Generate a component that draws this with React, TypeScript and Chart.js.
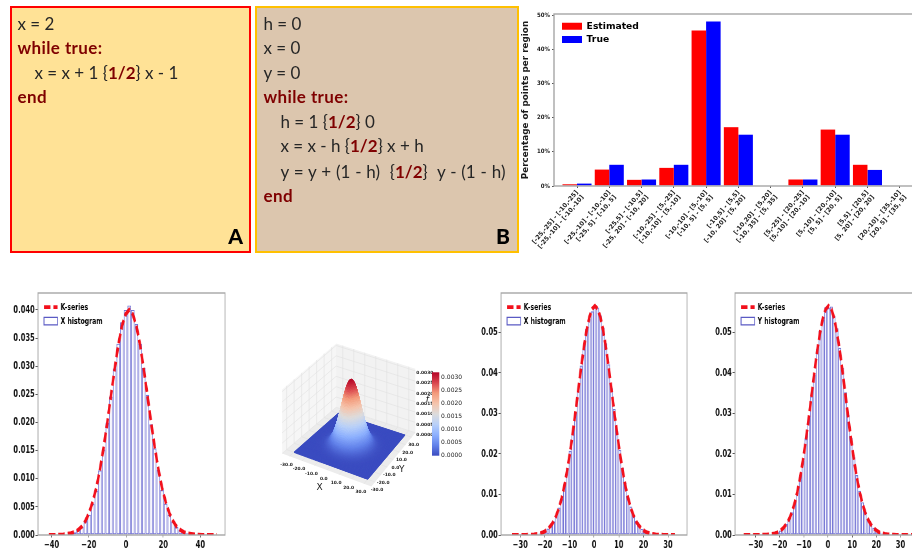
import React, { useEffect, useRef } from "react";
import { Chart, registerables } from "chart.js";

Chart.register(...registerables);

// ---------- Panels A / B ----------
const panelALines = [
  [0, "x = 2"],
  [1, "while true:"],
  [2, "x = x + 1 {|1/2|} x - 1"],
  [1, "end"],
];
const panelBLines = [
  [0, "h = 0"],
  [0, "x = 0"],
  [0, "y = 0"],
  [1, "while true:"],
  [2, "h = 1 {|1/2|} 0"],
  [2, "x = x - h {|1/2|} x + h"],
  [2, "y = y + (1 - h)  {|1/2|}  y - (1 - h)"],
  [1, "end"],
];

// ---------- Region bar chart ----------
const regionLabels = [
  ["[-25,-25] - [-10,-25]", "[-25,-10] - [-10,-10]"],
  ["[-25,-10] - [-10,-10]", "[-25, 5] - [-10, 5]"],
  ["[-25,5] - [-10,5]", "[-25, 20] - [-10, 20]"],
  ["[-10,-25] - [5,-25]", "[-10,-10] - [5,-10]"],
  ["[-10,-10] - [5,-10]", "[-10, 5] - [5, 5]"],
  ["[-10,5] - [5,5]", "[-10, 20] - [5, 20]"],
  ["[-10,20] - [5,20]", "[-10, 35] - [5, 35]"],
  ["[5,-25] - [20,-25]", "[5,-10] - [20,-10]"],
  ["[5,-10] - [20,-10]", "[5, 5] - [20, 5]"],
  ["[5,5] - [20,5]", "[5, 20] - [20, 20]"],
  ["[20,-10] - [35,-10]", "[20, 5] - [35, 5]"],
];
const regionIndex = [0, 1, 2, 3, 4, 5, 6, 7, 8, 9, 10];
const estimatedPct = [0.5, 4.8, 1.8, 5.3, 45.5, 17.2, 0.15, 1.9, 16.5, 6.2, 0.15];
const truePct = [0.7, 6.2, 1.9, 6.2, 48.1, 15.0, 0.15, 1.9, 15.0, 4.7, 0.15];

// ---------- Histogram 1 ----------
const h1X = [-41.42, -39.46, -37.5, -35.54, -33.58, -31.62, -29.66, -27.7, -25.74, -23.78, -21.82, -19.86, -17.9, -15.94, -13.98, -12.02, -10.06, -8.1, -6.14, -4.18, -2.22, -0.26, 1.7, 3.66, 5.62, 7.58, 9.54, 11.5, 13.46, 15.42, 17.38, 19.34, 21.3, 23.26, 25.22, 27.18, 29.14, 31.1, 33.06, 35.02, 36.98, 38.94, 40.9, 42.86, 44.82, 46.78, 48.74];
const h1Hist = [0, 0.00002, 0.00004, 0.00006, 0.0001, 0.00015, 0.0003, 0.0005, 0.0009, 0.0014, 0.0025, 0.0036, 0.0055, 0.0079, 0.0115, 0.0152, 0.02, 0.0246, 0.0296, 0.034, 0.0378, 0.04, 0.0408, 0.04, 0.0375, 0.034, 0.0297, 0.0249, 0.0197, 0.0154, 0.0116, 0.008, 0.0056, 0.0036, 0.0024, 0.0014, 0.0009, 0.0005, 0.0003, 0.00015, 0.0001, 0.00006, 0.00004, 0.00002, 0, 0, 0];
const h1Line = [0, 0.00001, 0.00002, 0.00005, 0.0001, 0.0002, 0.0003, 0.0005, 0.0009, 0.0015, 0.0025, 0.0039, 0.0059, 0.0084, 0.0117, 0.0156, 0.02, 0.0248, 0.0294, 0.0337, 0.0371, 0.0392, 0.04, 0.0392, 0.0371, 0.0337, 0.0294, 0.0248, 0.02, 0.0156, 0.0117, 0.0084, 0.0059, 0.0039, 0.0025, 0.0015, 0.0009, 0.0005, 0.0003, 0.0002, 0.0001, 0.00005, 0.00002, 0.00001, 0, 0, 0];

// ---------- Histogram 2 (X) ----------
const h2X = [-33.3, -32.18, -31.06, -29.94, -28.82, -27.7, -26.58, -25.46, -24.34, -23.22, -22.1, -20.98, -19.86, -18.74, -17.62, -16.5, -15.38, -14.26, -13.14, -12.02, -10.9, -9.78, -8.66, -7.54, -6.42, -5.3, -4.18, -3.06, -1.94, -0.82, 0.3, 1.42, 2.54, 3.66, 4.78, 5.9, 7.02, 8.14, 9.26, 10.38, 11.5, 12.62, 13.74, 14.86, 15.98, 17.1, 18.22, 19.34, 20.46, 21.58, 22.7, 23.82, 24.94, 26.06, 27.18, 28.3, 29.42, 30.54, 31.66, 32.78];
const h2Hist = [0, 0, 0, 0.00001, 0.00002, 0.00003, 0.00005, 0.0001, 0.0001, 0.0002, 0.0004, 0.0006, 0.0009, 0.0016, 0.0022, 0.0034, 0.0047, 0.0068, 0.009, 0.0125, 0.0165, 0.0208, 0.0255, 0.0302, 0.0355, 0.0418, 0.0459, 0.0508, 0.0533, 0.0552, 0.0566, 0.0561, 0.0542, 0.0512, 0.0473, 0.0421, 0.0362, 0.0311, 0.0257, 0.021, 0.0166, 0.0129, 0.0095, 0.007, 0.005, 0.0035, 0.0024, 0.0015, 0.001, 0.0006, 0.0004, 0.0002, 0.0001, 0.0001, 0.00005, 0.00003, 0.00001, 0, 0, 0];
const h2Line = [0, 0, 0, 0, 0.00001, 0.00002, 0.00004, 0.00007, 0.00013, 0.00022, 0.00037, 0.0006, 0.00096, 0.0015, 0.0023, 0.0033, 0.0048, 0.0067, 0.0092, 0.0123, 0.0161, 0.0204, 0.0253, 0.0305, 0.0359, 0.0413, 0.0462, 0.0505, 0.0537, 0.0558, 0.0565, 0.0558, 0.0537, 0.0505, 0.0462, 0.0413, 0.0359, 0.0305, 0.0253, 0.0204, 0.0161, 0.0123, 0.0092, 0.0067, 0.0048, 0.0033, 0.0023, 0.0015, 0.00096, 0.0006, 0.00037, 0.00022, 0.00013, 0.00007, 0.00004, 0.00002, 0.00001, 0, 0, 0];

// ---------- Histogram 3 (Y) ----------
const h3X = [-34.9, -33.73, -32.56, -31.39, -30.22, -29.05, -27.88, -26.71, -25.54, -24.37, -23.2, -22.03, -20.86, -19.69, -18.52, -17.35, -16.18, -15.01, -13.84, -12.67, -11.5, -10.33, -9.16, -7.99, -6.82, -5.65, -4.48, -3.31, -2.14, -0.97, 0.2, 1.37, 2.54, 3.71, 4.88, 6.05, 7.22, 8.39, 9.56, 10.73, 11.9, 13.07, 14.24, 15.41, 16.58, 17.75, 18.92, 20.09, 21.26, 22.43, 23.6, 24.77, 25.94, 27.11, 28.28, 29.45, 30.62, 31.79, 32.96, 34.13, 35.3];
const h3Hist = [0, 0, 0, 0, 0, 0.00001, 0.00002, 0.00003, 0.00008, 0.00012, 0.00024, 0.0004, 0.0007, 0.0011, 0.0016, 0.0027, 0.0038, 0.0056, 0.0079, 0.0105, 0.0145, 0.0183, 0.0237, 0.0291, 0.0342, 0.0396, 0.0458, 0.0504, 0.0531, 0.0562, 0.056, 0.0564, 0.0541, 0.051, 0.0462, 0.0412, 0.0352, 0.0296, 0.024, 0.0192, 0.0148, 0.0109, 0.0081, 0.0058, 0.004, 0.0027, 0.0018, 0.0011, 0.0007, 0.0004, 0.00024, 0.00013, 0.00006, 0.00003, 0.00002, 0.00001, 0, 0, 0, 0, 0];
const h3Line = [0, 0, 0, 0, 0, 0.00001, 0.00002, 0.00004, 0.00007, 0.00013, 0.00023, 0.0004, 0.00066, 0.0011, 0.0017, 0.0026, 0.0038, 0.0055, 0.0078, 0.0107, 0.0143, 0.0186, 0.0235, 0.0288, 0.0345, 0.0401, 0.0454, 0.0499, 0.0535, 0.0557, 0.0565, 0.0557, 0.0535, 0.0499, 0.0454, 0.0401, 0.0345, 0.0288, 0.0235, 0.0186, 0.0143, 0.0107, 0.0078, 0.0055, 0.0038, 0.0026, 0.0017, 0.0011, 0.00066, 0.0004, 0.00023, 0.00013, 0.00007, 0.00004, 0.00002, 0.00001, 0, 0, 0, 0, 0];

// ---------- 3D surface: f(X, Y) = profile(X) * profile(Y) ----------
const surfaceGrid = [-30, -28.5, -27, -25.5, -24, -22.5, -21, -19.5, -18, -16.5, -15, -13.5, -12, -10.5, -9, -7.5, -6, -4.5, -3, -1.5, 0, 1.5, 3, 4.5, 6, 7.5, 9, 10.5, 12, 13.5, 15, 16.5, 18, 19.5, 21, 22.5, 24, 25.5, 27, 28.5, 30];
const surfaceProfile = [0.00001, 0.00002, 0.00004, 0.00008, 0.00017, 0.00035, 0.0007, 0.0012, 0.0022, 0.0037, 0.0059, 0.0091, 0.0133, 0.0187, 0.0251, 0.0321, 0.0394, 0.0461, 0.0516, 0.0552, 0.0565, 0.0552, 0.0516, 0.0461, 0.0394, 0.0321, 0.0251, 0.0187, 0.0133, 0.0091, 0.0059, 0.0037, 0.0022, 0.0012, 0.0007, 0.00035, 0.00017, 0.00008, 0.00004, 0.00002, 0.00001];
const axisTicks3d = [-30, -20, -10, 0, 10, 20, 30];
const zTicks3d = [0, 0.0005, 0.001, 0.0015, 0.002, 0.0025, 0.003];

const DEJAVU = "'DejaVu Sans', sans-serif";
const COND = "'DejaVu Sans Condensed', 'DejaVu Sans', sans-serif";
const frameColor = "#a6a6a6";
const SQUEEZE = 1.55; // the histogram plots are horizontally compressed pictures

const framePlugin = {
  id: "frame",
  afterDatasetsDraw(chart: any) {
    const { ctx, chartArea: a } = chart;
    ctx.save();
    ctx.strokeStyle = frameColor;
    ctx.lineWidth = 1.4;
    ctx.strokeRect(a.left, a.top, a.right - a.left, a.bottom - a.top);
    ctx.restore();
  },
};

const legendNudge = {
  id: "legendNudge",
  afterLayout(chart: any, _a: any, opts: any) {
    if (chart.legend) {
      chart.legend.left += opts.dx || 0;
      chart.legend.top += opts.dy || 0;
      chart.legend.right += 40;
      chart.legend.bottom += 40;
    }
  },
};

const legendItems = (chart: any) =>
  chart.data.datasets.map((d: any, i: number) => ({
    text: d.label,
    fillStyle: d.legendFill,
    strokeStyle: d.legendStroke,
    lineWidth: d.legendWidth,
    lineDash: d.borderDash || [],
    pointStyle: d.pointStyle,
    datasetIndex: i,
    hidden: false,
  }));

function histConfig(o: {
  xs: number[]; hist: number[]; line: number[]; label: string;
  xMin: number; xMax: number; xStep: number; yMax: number; yStep: number; yDigits: number;
}) {
  const toXY = (ys: number[]) => ys.map((y, i) => ({ x: o.xs[i], y }));
  return {
    type: "bar",
    data: {
      datasets: [
        {
          type: "line", label: "K-series", data: toXY(o.line), order: 0,
          borderColor: "#f2101c", borderWidth: 4, borderDash: [10, 4.5], pointRadius: 0, tension: 0,
          pointStyle: "line", legendFill: "transparent", legendStroke: "#f2101c", legendWidth: 3.6,
        },
        {
          type: "bar", label: o.label, data: toXY(o.hist), order: 1,
          backgroundColor: "rgba(0,0,0,0)", borderColor: "rgba(60,60,195,0.7)", borderWidth: 1.2,
          borderSkipped: false, categoryPercentage: 1, barPercentage: 1, inflateAmount: 0,
          pointStyle: "rect", legendFill: "transparent", legendStroke: "#5a5ac4", legendWidth: 1.4,
        },
      ],
    },
    options: {
      responsive: false, animation: false,
      layout: { padding: { top: 10, right: 6 * SQUEEZE, left: 0, bottom: 0 } },
      plugins: {
        tooltip: { enabled: false },
        legendNudge: { dx: 4.8, dy: 14.9 },
        legend: {
          position: "chartArea", align: "start",
          labels: {
            usePointStyle: true, pointStyleWidth: 21, boxHeight: 7.5, padding: 4.5,
            font: { family: DEJAVU, size: 9.5, weight: "bold" }, color: "#111",
            generateLabels: legendItems,
          },
        },
      },
      scales: {
        x: {
          type: "linear", offset: false, min: o.xMin, max: o.xMax,
          grid: { offset: false, drawOnChartArea: false, tickLength: 2.5, color: "#555" },
          border: { display: false },
          ticks: {
            stepSize: o.xStep, includeBounds: false, autoSkip: false, maxRotation: 0, padding: 1,
            font: { family: DEJAVU, size: 10.5, weight: "bold" }, color: "#111",
            callback: (v: number) => String(v).replace("-", "\u2212"),
          },
          afterFit: (s: any) => { s.height = 17; s.paddingLeft = 0; s.paddingRight = 0; },
        },
        y: {
          min: 0, max: o.yMax,
          grid: { drawOnChartArea: false, tickLength: 4, color: "#555" },
          border: { display: false },
          ticks: {
            stepSize: o.yStep, includeBounds: false, padding: 1,
            font: { family: DEJAVU, size: 10.5, weight: "bold" }, color: "#111",
            callback: (v: number) => v.toFixed(o.yDigits),
          },
          afterFit: (s: any) => { s.width = 36 * SQUEEZE; s.paddingTop = 0; s.paddingBottom = 0; },
        },
      },
    },
    plugins: [framePlugin, legendNudge],
  };
}

function barConfig() {
  const toXY = (ys: number[]) => ys.map((y, i) => ({ x: regionIndex[i], y }));
  return {
    type: "bar",
    data: {
      datasets: [
        {
          label: "Estimated", data: toXY(estimatedPct), backgroundColor: "#ff0000",
          categoryPercentage: 0.9, barPercentage: 1, pointStyle: "rect",
          legendFill: "#ff0000", legendStroke: "#ff0000", legendWidth: 0,
        },
        {
          label: "True", data: toXY(truePct), backgroundColor: "#0000ff",
          categoryPercentage: 0.9, barPercentage: 1, pointStyle: "rect",
          legendFill: "#0000ff", legendStroke: "#0000ff", legendWidth: 0,
        },
      ],
    },
    options: {
      responsive: false, animation: false,
      layout: { padding: { top: 10, right: 0, left: 0, bottom: 0 } },
      plugins: {
        tooltip: { enabled: false },
        legendNudge: { dx: 4, dy: 13.6 },
        legend: {
          position: "chartArea", align: "start",
          labels: {
            usePointStyle: true, pointStyleWidth: 20, boxHeight: 7, padding: 4,
            font: { family: DEJAVU, size: 9.2, weight: "bold" }, color: "#1a1a1a",
            generateLabels: legendItems,
          },
        },
      },
      scales: {
        x: {
          type: "linear", offset: false, min: -0.713, max: 10.69,
          grid: { offset: false, drawOnChartArea: false, tickLength: 2, color: "#555" },
          border: { display: false },
          ticks: {
            stepSize: 1, includeBounds: false, autoSkip: false, minRotation: 50, maxRotation: 50, padding: 1,
            font: { family: DEJAVU, size: 6.2, weight: "bold" }, color: "#1a1a1a",
            callback: (v: number) => regionLabels[v],
          },
          afterFit: (s: any) => { s.height = 74; s.paddingLeft = 0; s.paddingRight = 0; },
        },
        y: {
          min: 0, max: 50.3,
          grid: { drawOnChartArea: false, tickLength: 2, color: "#555" },
          border: { display: false },
          title: {
            display: true, text: "Percentage of points per region", color: "#1a1a1a",
            font: { family: DEJAVU, size: 8.8, weight: "bold" }, padding: { top: 2, bottom: 0 },
          },
          ticks: {
            stepSize: 10, includeBounds: false, padding: 2,
            font: { family: COND, size: 6, weight: "bold" }, color: "#1a1a1a",
            callback: (v: number) => v + "%",
          },
          afterFit: (s: any) => { s.width = 36; s.paddingTop = 0; s.paddingBottom = 0; },
        },
      },
    },
    plugins: [framePlugin, legendNudge],
  };
}

// projection of (X, Y, f) to the plane of the hidden page-aligned scales
const corner = { L: [294, 452.3], F: [367.7, 479.3], R: [405, 435], B: [338.3, 413.3] };
const Z_PX = 20600;
function project(X: number, Y: number, z: number) {
  const u = (X + 30) / 60;
  const v = (Y + 30) / 60;
  const px = (1 - u) * (1 - v) * corner.L[0] + u * (1 - v) * corner.F[0] + u * v * corner.R[0] + (1 - u) * v * corner.B[0];
  const py = (1 - u) * (1 - v) * corner.L[1] + u * (1 - v) * corner.F[1] + u * v * corner.R[1] + (1 - u) * v * corner.B[1];
  return { x: px, y: py - z * Z_PX };
}
const coolwarmStops = [
  [59, 76, 192], [98, 130, 234], [141, 176, 254], [184, 208, 249], [221, 220, 220],
  [245, 196, 172], [244, 154, 123], [217, 68, 77], [180, 4, 38],
];
function coolwarm(t: number) {
  const c = Math.min(0.9999, Math.max(0, t)) * (coolwarmStops.length - 1);
  const i = Math.floor(c);
  const f = c - i;
  const a = coolwarmStops[i];
  const b = coolwarmStops[i + 1];
  return `rgb(${a.map((v, k) => Math.round(v + (b[k] - v) * f)).join(",")})`;
}

const surfacePlugin = {
  id: "surface3d",
  beforeDatasetsDraw(chart: any) {
    const { ctx, scales } = chart;
    const P = (X: number, Y: number, z: number) => {
      const p = project(X, Y, z);
      return [scales.x.getPixelForValue(p.x), scales.y.getPixelForValue(p.y)];
    };
    const poly = (pts: number[][], fill: string, stroke?: string) => {
      ctx.beginPath();
      pts.forEach((p, i) => (i ? ctx.lineTo(p[0], p[1]) : ctx.moveTo(p[0], p[1])));
      ctx.closePath();
      ctx.fillStyle = fill;
      ctx.fill();
      if (stroke) { ctx.strokeStyle = stroke; ctx.lineWidth = 0.8; ctx.stroke(); }
    };
    const seg = (a: number[], b: number[]) => {
      ctx.beginPath(); ctx.moveTo(a[0], a[1]); ctx.lineTo(b[0], b[1]);
      ctx.strokeStyle = "#e0e0e0"; ctx.lineWidth = 0.6; ctx.stroke();
    };
    const E = 36;
    const T = 0.0031;
    ctx.save();
    // panes
    poly([P(-E, -E, 0), P(-E, E, 0), P(-E, E, T), P(-E, -E, T)], "#f6f6f6");
    poly([P(-E, E, 0), P(E, E, 0), P(E, E, T), P(-E, E, T)], "#f2f2f2");
    poly([P(-E, -E, 0), P(E, -E, 0), P(E, E, 0), P(-E, E, 0)], "#ececec");
    axisTicks3d.forEach((t) => {
      seg(P(t, -E, 0), P(t, E, 0));
      seg(P(-E, t, 0), P(E, t, 0));
      seg(P(-E, t, 0), P(-E, t, T));
      seg(P(t, E, 0), P(t, E, T));
    });
    zTicks3d.forEach((z) => {
      seg(P(-E, -E, z), P(-E, E, z));
      seg(P(-E, E, z), P(E, E, z));
    });
    // surface cells, back to front; each table cell is drawn as SUB × SUB facets
    const SUB = 3;
    const m = (surfaceGrid.length - 1) * SUB;
    const gridAt = (k: number) => {
      const i = Math.min(Math.floor(k / SUB), surfaceGrid.length - 2);
      const w = k / SUB - i;
      return surfaceGrid[i] + (surfaceGrid[i + 1] - surfaceGrid[i]) * w;
    };
    const profAt = (k: number) => {
      const i = Math.min(Math.floor(k / SUB), surfaceProfile.length - 2);
      const w = k / SUB - i;
      return surfaceProfile[i] + (surfaceProfile[i + 1] - surfaceProfile[i]) * w;
    };
    const f = (i: number, j: number) => profAt(i) * profAt(j);
    const cells: number[][] = [];
    for (let i = 0; i < m; i++) for (let j = 0; j < m; j++) cells.push([i, j]);
    cells.sort((a, b) => a[0] - a[1] - (b[0] - b[1]));
    cells.forEach(([i, j]) => {
      const x0 = gridAt(i), x1 = gridAt(i + 1), y0 = gridAt(j), y1 = gridAt(j + 1);
      const mean = (f(i, j) + f(i + 1, j) + f(i, j + 1) + f(i + 1, j + 1)) / 4;
      const col = coolwarm(mean / 0.0032);
      poly([P(x0, y0, f(i, j)), P(x1, y0, f(i + 1, j)), P(x1, y1, f(i + 1, j + 1)), P(x0, y1, f(i, j + 1))], col, col);
    });
    // tick labels
    ctx.fillStyle = "#222";
    ctx.textAlign = "center";
    ctx.textBaseline = "middle";
    ctx.font = `bold 4.4px ${DEJAVU}`;
    axisTicks3d.forEach((t) => {
      const a = P(t, -E, 0);
      ctx.fillText(t.toFixed(1), a[0] - 3, a[1] + 8.5);
      const b = P(E, t, 0);
      ctx.fillText(t.toFixed(1), b[0] + 2, b[1] + 8);
    });
    ctx.textAlign = "left";
    zTicks3d.forEach((z) => {
      const c = P(E, E, z);
      ctx.fillText(z.toFixed(4), c[0] + 1, c[1] + 2);
    });
    // axis letters
    ctx.font = `9px ${DEJAVU}`;
    ctx.textAlign = "center";
    const X0 = P(8, -E, 0);
    ctx.fillText("X", X0[0] - 17, X0[1] + 14);
    const Y0 = P(E, 3, 0);
    ctx.fillText("Y", Y0[0] + 6.5, Y0[1] + 12);
    ctx.font = `italic 9px ${DEJAVU}`;
    const Z0 = P(E, E, 0.0017);
    ctx.fillText("f", Z0[0] + 12, Z0[1] + 2);
    // colour bar
    const cbX = scales.x.getPixelForValue(432);
    const cbR = scales.x.getPixelForValue(439.3);
    const cbT = scales.y.getPixelForValue(372.3);
    const cbB = scales.y.getPixelForValue(455.7);
    const g = ctx.createLinearGradient(0, cbB, 0, cbT);
    coolwarmStops.forEach((_s, i) => g.addColorStop(i / (coolwarmStops.length - 1), coolwarm(i / (coolwarmStops.length - 1))));
    ctx.fillStyle = g;
    ctx.fillRect(cbX, cbT, cbR - cbX, cbB - cbT);
    ctx.fillStyle = "#222";
    ctx.textAlign = "left";
    ctx.font = `6px ${DEJAVU}`;
    zTicks3d.forEach((z) => {
      ctx.fillText(z.toFixed(4), cbR + 1.8, cbB - (z / 0.0032) * (cbB - cbT));
    });
    ctx.restore();
  },
};

function surfaceConfig() {
  const points = surfaceGrid.map((X, i) => project(X, surfaceGrid[i], surfaceProfile[i] * surfaceProfile[i]));
  return {
    type: "scatter",
    data: { datasets: [{ label: "f", data: points, pointRadius: 0 }] },
    options: {
      responsive: false, animation: false,
      layout: { padding: 0 },
      plugins: { legend: { display: false }, tooltip: { enabled: false } },
      scales: {
        x: { type: "linear", display: false, min: 270, max: 470 },
        y: { type: "linear", display: false, min: 335, max: 505, reverse: true },
      },
    },
    plugins: [surfacePlugin],
  };
}

function ChartBox({ left, top, width, height, make, blur = 0.4, squeeze = 1 }: any) {
  const ref = useRef<HTMLCanvasElement>(null);
  useEffect(() => {
    const chart = new Chart(ref.current as any, make());
    return () => chart.destroy();
  }, []);
  return (
    <canvas
      ref={ref}
      width={Math.round(width * squeeze)}
      height={height}
      style={{ position: "absolute", left, top, width, height, filter: `blur(${blur}px)` }}
    />
  );
}

function Panel({ left, right, fill, border, lines, letter, textX, letterX }: any) {
  const lineTops = [24, 48.4, 73, 97.4, 122.2, 146.4, 171.6, 196];
  return (
    <div
      style={{
        position: "absolute", left, top: 6, width: right - left, height: 247, boxSizing: "border-box",
        background: fill, border: `2px solid ${border}`, filter: "blur(0.3px)",
      }}
    >
      {lines.map(([kind, text]: any, i: number) => {
        const bold = kind === 1;
        const parts = String(text).split("|");
        return (
          <div
            key={i}
            style={{
              position: "absolute", left: textX + (kind === 2 ? 17 : 0), top: lineTops[i] - 8 - 12,
              height: 24, lineHeight: "24px", whiteSpace: "pre", fontFamily: "Lato, sans-serif", fontSize: 17,
              fontWeight: bold ? 700 : 400, color: bold ? "#7f0000" : "#262626", letterSpacing: bold ? 0.4 : 0,
              wordSpacing: String(text).includes("  ") ? 0.5 : 0,
            }}
          >
            {parts.map((p, k) =>
              k === 1 ? <span key={k} style={{ fontWeight: 700, color: "#7f0000" }}>{p}</span> : <span key={k}>{p}</span>
            )}
          </div>
        );
      })}
      <div
        style={{
          position: "absolute", left: letterX - left - 2 - 15, top: 235.7 - 8 - 15, width: 30, height: 30, lineHeight: "30px",
          textAlign: "center", fontFamily: "Lato, sans-serif", fontWeight: 900, fontSize: 21, color: "#000",
        }}
      >
        {letter}
      </div>
    </div>
  );
}

export default function App() {
  return (
    <div style={{ position: "fixed", left: 0, top: 0, width: 912, height: 552, overflow: "hidden", background: "#fff" }}>
      <Panel left={10} right={251} fill="#FFE296" border="#FF0000" lines={panelALines} letter="A" textX={5.5} letterX={235.7} />
      <Panel left={255} right={519} fill="#DCC6AE" border="#FFC000" lines={panelBLines} letter="B" textX={6.5} letterX={503} />
      <ChartBox left={518} top={4} width={404} height={256} make={barConfig} />
      <ChartBox
        left={2} top={283} width={229} height={269} squeeze={SQUEEZE}
        make={() => histConfig({ xs: h1X, hist: h1Hist, line: h1Line, label: "X histogram", xMin: -47.3, xMax: 53.2, xStep: 20, yMax: 0.043, yStep: 0.005, yDigits: 3 })}
      />
      <ChartBox left={270} top={335} width={200} height={170} make={surfaceConfig} blur={0.5} />
      <ChartBox
        left={465} top={283} width={228} height={269} squeeze={SQUEEZE}
        make={() => histConfig({ xs: h2X, hist: h2Hist, line: h2Line, label: "X histogram", xMin: -37.8, xMax: 37.7, xStep: 10, yMax: 0.0597, yStep: 0.01, yDigits: 2 })}
      />
      <ChartBox
        left={699} top={283} width={228} height={269} squeeze={SQUEEZE}
        make={() => histConfig({ xs: h3X, hist: h3Hist, line: h3Line, label: "Y histogram", xMin: -38.5, xMax: 38.5, xStep: 10, yMax: 0.0597, yStep: 0.01, yDigits: 2 })}
      />
    </div>
  );
}
